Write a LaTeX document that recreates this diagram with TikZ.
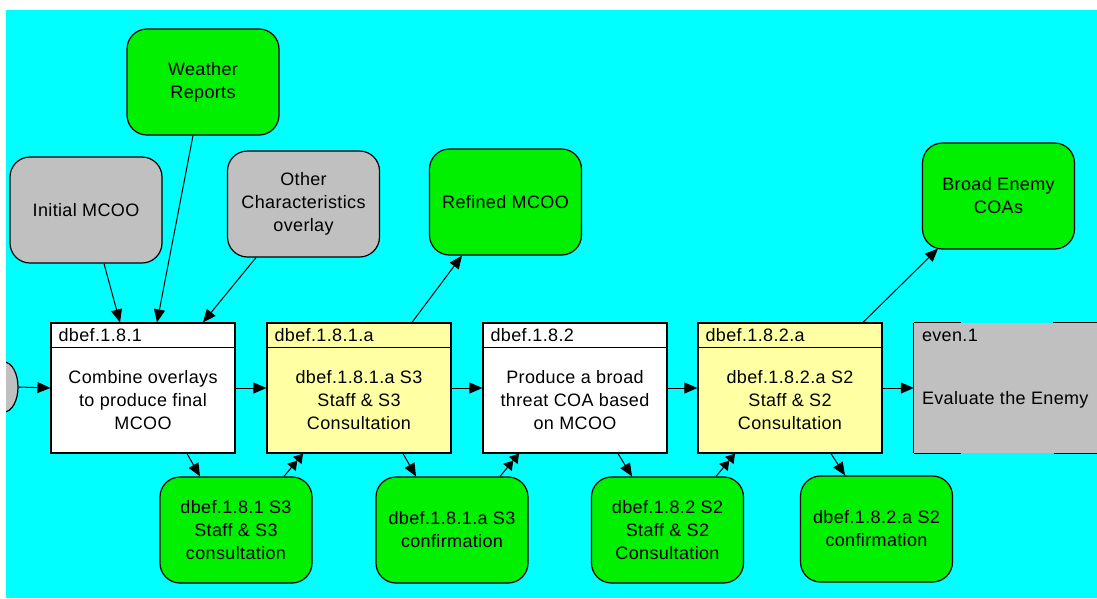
\documentclass[tikz,border=0pt]{standalone}
\usepackage{fontspec}
\setmainfont[LetterSpace=2]{Liberation Sans}
\usetikzlibrary{arrows.meta,shapes.geometric}
\definecolor{bgcyan}{HTML}{00FFFF}
\definecolor{tgreen}{HTML}{00F000}
\definecolor{tgrey}{HTML}{C0C0C0}
\definecolor{tyellow}{HTML}{FFFFA4}
\tikzset{
  txt/.style={font=\fontsize{18}{23}\selectfont, align=center, inner sep=0pt},
  rbox/.style={draw=black, line width=1.2pt, rounded corners=20pt, minimum width=152pt, minimum height=106pt, txt},
  gbox/.style={rbox, fill=tgreen},
  greybox/.style={rbox, fill=tgrey},
  proc/.style={draw=black, line width=1.2pt, minimum width=184pt, minimum height=130pt, inner sep=0pt},
  hdr/.style={txt, anchor=west},
  conn/.style={line width=1pt, -{Triangle[length=13pt,width=11pt]}},
  dconn/.style={line width=1pt, -{Triangle[length=9pt,width=11pt]Triangle[length=9pt,width=11pt]}},
  edge line/.style={line width=1.2pt},
}
\begin{document}
\begin{tikzpicture}[x=1pt,y=-1pt]
\useasboundingbox (0,0) rectangle (1097,598);
\clip (0,0) rectangle (1097,598);
\fill[white] (0,0) rectangle (1097,598);
\fill[bgcyan] (6,10) rectangle (1097,598);

% start circle
\begin{scope}
\clip (6,10) rectangle (1097,598);
\node[draw=black, line width=1.2pt, fill=tgrey, ellipse, minimum width=28pt, minimum height=50pt, inner sep=0pt] (start) at (4,387) {};
\end{scope}

% top resources
\node[greybox] (init) at (86,210) {Initial MCOO};
\node[gbox] (weather) at (203,82) {Weather\\Reports};
\node[greybox] (other) at (303.5,204) {Other\\Characteristics\\overlay};
\node[gbox] (refined) at (505.5,202) {Refined MCOO};
\node[gbox] (broad) at (998.5,196) {Broad Enemy\\COAs};

% bottom resources
\node[gbox] (c1) at (236,530) {dbef.1.8.1 S3\\Staff \& S3\\consultation};
\node[gbox] (c2) at (452,530) {dbef.1.8.1.a S3\\confirmation};
\node[gbox] (c3) at (667.5,530) {dbef.1.8.2 S2\\Staff \& S2\\Consultation};
\node[gbox] (c4) at (876.5,529) {dbef.1.8.2.a S2\\confirmation};

% process boxes
\node[proc, fill=white] (b1) at (143,388) {};
\node[proc, fill=tyellow] (b2) at (359,388) {};
\node[proc, fill=white] (b3) at (575,388) {};
\node[proc, fill=tyellow] (b4) at (790,388) {};
\foreach \b/\h/\t in {b1/dbef.1.8.1/{Combine overlays\\to produce final\\MCOO},
                      b2/dbef.1.8.1.a/{dbef.1.8.1.a S3\\Staff \& S3\\Consultation},
                      b3/dbef.1.8.2/{Produce a broad\\threat COA based\\on MCOO},
                      b4/dbef.1.8.2.a/{dbef.1.8.2.a S2\\Staff \& S2\\Consultation}}{
  \draw[edge line] ([yshift=-25pt]\b.north west) -- ([yshift=-25pt]\b.north east);
  \node[hdr] at ([shift={(8pt,-13pt)}]\b.north west) {\h};
  \node[txt] at ([yshift=-12.5pt]\b.center) {\t};
}

% even.1 box
\node[fill=tgrey, minimum width=200pt, minimum height=130pt, inner sep=0pt] (e1) at (1014,388) {};
\draw[edge line] (e1.north west) -- (e1.south west);
\draw[edge line] (e1.north west) -- ([xshift=47pt]e1.north west);
\draw[edge line] ([xshift=139pt]e1.north west) -- (e1.north east);
\draw[edge line] (e1.south west) -- ([xshift=47pt]e1.south west);
\draw[edge line] ([xshift=140pt]e1.south west) -- (e1.south east);
\node[hdr] at ([shift={(8pt,-13pt)}]e1.north west) {even.1};
\node[hdr] at ([shift={(8pt,-12pt)}]e1.west) {Evaluate the Enemy};

% horizontal flow
\draw[conn] (start.east) -- (b1.west);
\draw[conn] (b1.east) -- (b2.west);
\draw[conn] (b2.east) -- (b3.west);
\draw[conn] (b3.east) -- (b4.west);
\draw[conn] (b4.east) -- (e1.west);

% inputs from top
\draw[conn] ([xshift=18pt]init.south) -- ([xshift=-23pt]b1.north);
\draw[conn] ([xshift=-10pt]weather.south) -- ([xshift=14pt]b1.north);
\draw[conn] ([xshift=-47.5pt]other.south) -- ([xshift=60pt]b1.north);

% outputs to top
\draw[conn] ([xshift=53pt]b2.north) -- ([xshift=-43.5pt]refined.south);
\draw[conn] ([xshift=73pt]b4.north) -- ([xshift=-60.5pt,yshift=1pt]broad.south);

% bottom exchanges
\draw[conn] ([xshift=44pt]b1.south) -- ([xshift=-36pt]c1.north);
\draw[dconn] ([xshift=48pt]c1.north) -- ([xshift=-56pt]b2.south);
\draw[conn] ([xshift=44pt]b2.south) -- ([xshift=-36pt]c2.north);
\draw[dconn] ([xshift=48pt]c2.north) -- ([xshift=-56pt]b3.south);
\draw[conn] ([xshift=43pt]b3.south) -- ([xshift=-35.5pt]c3.north);
\draw[dconn] ([xshift=48.5pt]c3.north) -- ([xshift=-55pt]b4.south);
\draw[conn] ([xshift=41pt]b4.south) -- ([xshift=-31.5pt]c4.north);
\end{tikzpicture}
\end{document}
